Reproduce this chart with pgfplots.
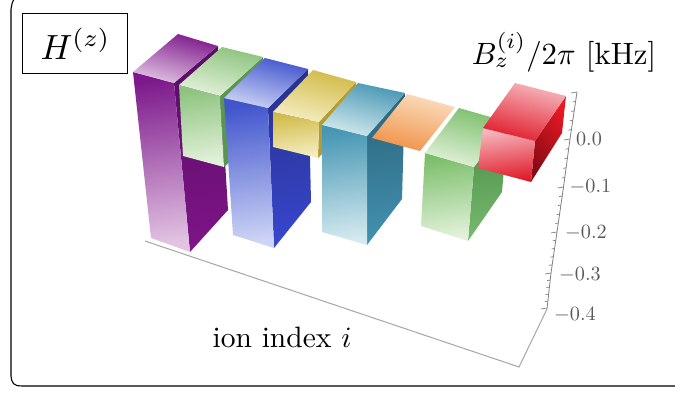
\documentclass[border=0pt]{standalone}
\usepackage{pgfplots}
\pgfplotsset{compat=1.18}

\definecolor{purA}{RGB}{125,25,140}\definecolor{purB}{RGB}{226,196,226}\definecolor{purS}{RGB}{88,14,100}\definecolor{purT}{RGB}{125,20,135}
\definecolor{grnA}{RGB}{140,195,125}\definecolor{grnB}{RGB}{228,242,220}\definecolor{grnS}{RGB}{90,150,80}
\definecolor{bluA}{RGB}{65,85,205}\definecolor{bluB}{RGB}{205,212,245}\definecolor{bluS}{RGB}{40,50,140}\definecolor{bluT}{RGB}{55,70,205}
\definecolor{yelA}{RGB}{208,186,70}\definecolor{yelB}{RGB}{246,238,195}\definecolor{yelS}{RGB}{180,155,50}
\definecolor{cyaA}{RGB}{70,150,180}\definecolor{cyaB}{RGB}{212,234,238}\definecolor{cyaS}{RGB}{45,100,125}\definecolor{cyaT}{RGB}{65,145,175}
\definecolor{oraA}{RGB}{250,222,192}\definecolor{oraB}{RGB}{240,145,70}
\definecolor{gr2A}{RGB}{122,190,105}\definecolor{gr2S}{RGB}{72,140,70}\definecolor{gr2T}{RGB}{120,185,110}
\definecolor{redA}{RGB}{246,185,192}\definecolor{redB}{RGB}{224,25,40}\definecolor{redS}{RGB}{135,10,20}\definecolor{redT}{RGB}{232,25,35}

\newcommand{\face}[4][8]{\addplot[draw=none,top color=#2,bottom color=#3,shading angle=#1] coordinates {#4};}

\begin{document}
\begin{tikzpicture}
\begin{axis}[
    scale only axis, width=675pt, height=394pt,
    xmin=0, xmax=675, ymin=0, ymax=394, y dir=reverse,
    hide axis
]
% outer frame
\addplot[black, line width=1.1pt] coordinates {(14,-1) (12.2,3) (11,9) (11,376) (11.6,380) (13.5,383.6) (17,385.6) (22,386) (690,386)};
% axis box lines
\addplot[black!35, line width=1pt] coordinates {(145,241) (519,367) (547,309)};
\addplot[black!50, line width=0.8pt] coordinates {(577,92) (570,139) (563.5,187) (557,232) (551,273) (547,309)};
\addplot[black!50, line width=0.7pt, quiver={u=-3,v=0.6}] coordinates {
    (575.6,101.4) (574.2,110.8) (572.8,120.2) (571.4,129.6)
    (568.7,148.6) (567.4,158.2) (566.1,167.8) (564.8,177.4)
    (562.2,196) (560.9,205) (559.6,214) (558.3,223)
    (555.8,240.2) (554.6,248.4) (553.4,256.6) (552.2,264.8)
    (550.2,280) (549.4,287) (548.6,294) (547.8,301)};
\addplot[black!50, line width=0.7pt, quiver={u=-6,v=1}] coordinates {
    (577,92) (570,139) (563.5,187) (557,232) (551,273) (547,308)};

% purple
\face{purS}{purT}{(174,83) (218,46) (228,210) (190,252) (174,83)}
\face{purA}{purB}{(133,72) (174,83) (190,252) (151,238) (133,72)}
\face[-15]{purA}{purB}{(133,72) (178,34) (218,46) (174,83) (133,72)}
% green
\face{grnS}{grnS}{(220,96) (263,57) (266,130) (224,167) (220,96)}
\face{grnA}{grnB}{(179,85) (220,96) (224,167) (183,156) (179,85)}
\face[-15]{grnA}{grnB}{(179,85) (222,47) (263,57) (220,96) (179,85)}
% blue
\face{bluS}{bluT}{(268,108) (308,69) (311,202) (274,248) (268,108)}
\face{bluA}{bluB}{(224,98) (268,108) (274,248) (233,235) (224,98)}
\face[-15]{bluA}{bluB}{(224,98) (265,58) (308,69) (268,108) (224,98)}
% yellow
\face{yelS}{yelS}{(319,122) (356,82) (358,118) (318,158) (319,122)}
\face{yelA}{yelB}{(273,112) (319,122) (318,158) (273,147) (273,112)}
\face[-15]{yelA}{yelB}{(273,112) (313,70) (356,82) (319,122) (273,112)}
% light blue
\face{cyaS}{cyaT}{(367,136) (405,93) (402,199) (367,245) (367,136)}
\face{cyaA}{cyaB}{(322,125) (367,136) (367,245) (322,232) (322,125)}
\face[-15]{cyaA}{cyaB}{(322,125) (358,83) (405,93) (367,136) (322,125)}
% orange
\face[-15]{oraA}{oraB}{(372,138) (407,94) (455,107) (420,151) (372,138)}
% green 2
\face{gr2S}{gr2T}{(474,167) (508,122) (502,192) (468,241) (474,167)}
\face{gr2A}{grnB}{(425,153) (474,167) (468,241) (421,226) (425,153)}
\face[-15]{gr2A}{grnB}{(425,153) (459,108) (508,122) (474,167) (425,153)}
% red
\face[-50]{redT}{redS}{(535,141) (566,96) (562,133) (531,182) (535,141)}
\face{redA}{redB}{(483,128) (535,141) (531,182) (478,168) (483,128)}
\face[-15]{redA}{redB}{(483,128) (515,83) (566,96) (535,141) (483,128)}

% texts
\node[draw=black, line width=0.7pt, minimum width=105pt, minimum height=60pt, inner sep=0pt, fill=white] at (axis cs:74.5,43) {};
\node[scale=3.5] at (axis cs:75.5,44) {$H^{(z)}$};
\node[scale=3.08] at (axis cs:564,52) {$B_z^{(i)}/2\pi$ [kHz]};
\node[scale=2.95] at (axis cs:282,337) {ion index $i$};
\node[text=black!65, scale=2.02] at (axis cs:589,139) {$0.0$};
\node[text=black!65, scale=2.02] at (axis cs:590.5,187) {$-0.1$};
\node[text=black!65, scale=2.02] at (axis cs:586,233) {$-0.2$};
\node[text=black!65, scale=2.02] at (axis cs:580,275) {$-0.3$};
\node[text=black!65, scale=2.02] at (axis cs:575,315) {$-0.4$};
\coordinate (sw) at (axis cs:0,394);
\coordinate (ne) at (axis cs:675,0);
\end{axis}
\pgfresetboundingbox
\path[use as bounding box] (sw) rectangle (ne);
\end{tikzpicture}
\end{document}
